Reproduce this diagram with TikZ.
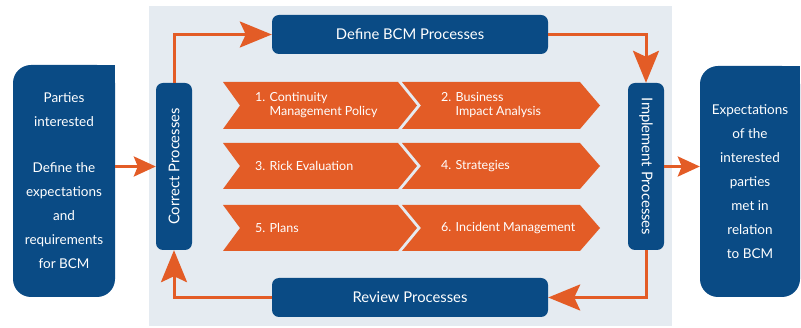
\documentclass[tikz,border=0pt]{standalone}
\usepackage{fontspec}
\setmainfont{Lato}
\usetikzlibrary{arrows.meta}
\definecolor{bcmblue}{HTML}{0A4B85}
\definecolor{bcmorange}{HTML}{E35C26}
\definecolor{panel}{HTML}{E5EBF1}
\begin{document}
\begin{tikzpicture}[x=1pt,y=-1pt,
  proc/.style={fill=bcmblue, text=white, rounded corners=7pt, inner sep=0pt,
    font=\fontsize{14.8}{16}\selectfont},
  side/.style={fill=bcmblue, text=white, rounded corners=18pt, inner sep=0pt,
    align=center, font=\fontsize{13.5}{24}\selectfont},
  flow/.style={draw=bcmorange, line width=3pt,
    -{Stealth[length=32pt,width=26pt,inset=6pt,fill=bcmorange]}},
  flowsmall/.style={draw=bcmorange, line width=3pt,
    -{Stealth[length=22pt,width=20pt,inset=4pt,fill=bcmorange]}},
  chev/.style={fill=bcmorange},
  chevtext/.style={text=white, anchor=west, inner sep=0pt, align=left,
    font=\fontsize{12.5}{14}\selectfont}
]
\useasboundingbox (0,0) rectangle (801,328);
% panel
\fill[panel] (149,6) rectangle (672,326);

% side boxes
\node[side, minimum width=102pt, minimum height=232pt] (left) at (64,181)
  {Parties\\interested\\[22pt]Define the\\expectations\\and\\requirements\\for BCM};
\fill[bcmblue] (95,65) rectangle (115,85);
\node[side, minimum width=100pt, minimum height=231pt] (right) at (750,181.5)
  {Expectations\\of the\\interested\\parties\\met in\\relation\\to BCM};
\fill[bcmblue] (780,66) rectangle (800,86);

% process boxes
\node[proc, minimum width=276pt, minimum height=39pt] (define) at (410,34.5) {Define BCM Processes};
\node[proc, minimum width=276pt, minimum height=39pt] (review) at (410,297.5) {Review Processes};
\node[proc, minimum width=36pt, minimum height=167pt] (correct) at (174,166.5) {\rotatebox{90}{Correct Processes}};
\node[proc, minimum width=36pt, minimum height=167pt] (implement) at (646,166.5) {\rotatebox{-90}{Implement Processes}};

% chevrons
\fill[chev] (223,82) -- (398,82) -- (417,105.5) -- (398,129) -- (223,129) -- (240,105.5) -- cycle;
\fill[chev] (402,82) -- (580,82) -- (600,105.5) -- (580,129) -- (402,129) -- (421,105.5) -- cycle;
\fill[chev] (223,143) -- (398,143) -- (417,166) -- (398,189) -- (223,189) -- (240,166) -- cycle;
\fill[chev] (402,143) -- (580,143) -- (600,166) -- (580,189) -- (402,189) -- (421,166) -- cycle;
\fill[chev] (223,205) -- (398,205) -- (417,228) -- (398,251) -- (223,251) -- (240,228) -- cycle;
\fill[chev] (402,205) -- (580,205) -- (600,228) -- (580,251) -- (402,251) -- (421,228) -- cycle;

\node[chevtext] (c1) at (255,105.5) {1. Continuity\\\phantom{1. }Management Policy};
\node[chevtext] (c2) at (441,105.5) {2. Business\\\phantom{2. }Impact Analysis};
\node[chevtext] (c3) at (255,166) {3. Rick Evaluation};
\node[chevtext] (c4) at (441,166) {4. Strategies};
\node[chevtext] (c5) at (255,228) {5. Plans};
\node[chevtext] (c6) at (441,228) {6. Incident Management};

% connectors
\draw[flowsmall] (left.east |- correct.west) -- (correct.west);
\draw[flow] (correct.north) |- (define.west);
\draw[flow] (define.east) -| (implement.north);
\draw[flow] (implement.south) |- (review.east);
\draw[flow] (review.west) -| (correct.south);
\draw[flowsmall] (implement.east) -- (implement.east -| right.west);
\end{tikzpicture}
\end{document}
